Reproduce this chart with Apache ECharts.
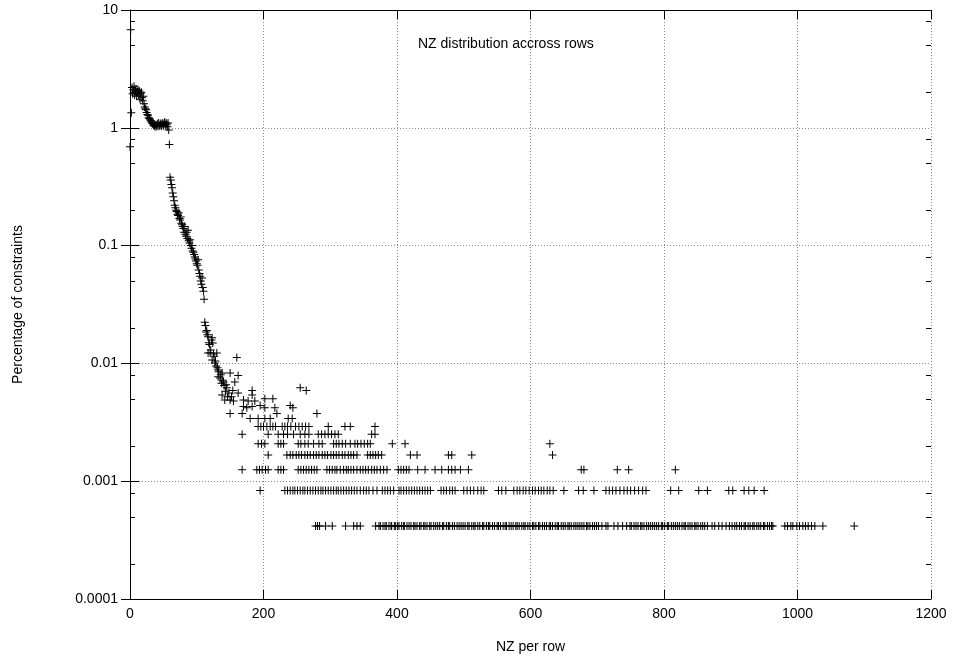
<!DOCTYPE html>
<html>
<head>
<meta charset="utf-8">
<script src="https://cdn.jsdelivr.net/npm/echarts@6/dist/echarts.min.js"></script>
<style>html,body{margin:0;padding:0;background:#fff}#c{width:954px;height:663px}</style>
</head>
<body>
<div id="c"></div>
<script>
// ---- data ----
const xTickLabels = ['0','200','400','600','800','1000','1200'];
const yTickLabels = ['0.0001','0.001','0.01','0.1','1','10'];
const yMinorTicks = [0.0002,0.0005,0.0008,0.002,0.005,0.008,0.02,0.05,0.08,0.2,0.5,0.8,2,5,8];

const headX = [0,1,2,3,4,5,6,7,8,9,10,11,12,13,14,15,16,17,18,19,20,21,22,23,24,25,26,27,28,29,
30,31,32,33,34,35,36,37,38,39,40,41,42,43,44,45,46,47,48,49,50,51,52,53,54,55,56,57,58,59,
60,61,62,63,64,65,66,67,68,69,70,71,72,73,74,75,76,77,78,79,80,81,82,83,84,85,86,87,88,89,
90,91,92,93,94,95,96,97,98,99,100,101,102,103,104,105,106,107,108,109,110,111];
const headY = [0.69,6.8,1.34,2.2,1.95,2.1,2.25,1.9,2.05,2.15,
1.85,2.0,2.1,1.9,2.05,1.75,1.95,2.0,1.8,1.7,
1.85,1.6,1.5,1.45,1.42,1.35,1.3,1.28,1.22,1.2,
1.17,1.15,1.12,1.1,1.08,1.05,1.07,1.03,1.06,1.02,
1.05,1.08,1.03,1.1,1.04,1.06,1.09,1.03,1.07,1.1,
1.04,1.08,1.12,1.05,1.1,1.07,1.02,1.1,0.96,0.72,
0.38,0.36,0.33,0.31,0.28,0.26,0.24,0.22,0.21,0.2,
0.195,0.185,0.18,0.19,0.17,0.165,0.175,0.155,0.15,0.145,
0.14,0.13,0.145,0.125,0.12,0.13,0.115,0.135,0.11,0.105,
0.112,0.1,0.095,0.1,0.09,0.088,0.084,0.08,0.077,0.074,
0.07,0.068,0.076,0.062,0.058,0.055,0.05,0.047,0.053,0.044,
0.041,0.035];

const midX = [112,113,114,115,116,117,118,119,120,121,122,123,124,117,125,126,130,123,127,128,129,160,
131,132,133,138,132,135,150,162,136,137,139,140,157,141,145,154,183,143,138,144,162,183,146,148,
142,150,152,170,177,187,202,214,255,264,155,170,175,183,195,202,217,240,244,
150,168,180,192,202,210,220,237,243,280];
const midY = [0.0224,0.021,0.0185,0.019,0.0175,0.0168,0.015,0.0145,0.0123,0.013,0.0158,0.0165,0.0149,0.01225,0.012,0.0115,0.01225,0.0107,0.0101,0.0105,0.0095,0.0112,
0.0092,0.0088,0.0085,0.0083,0.0077,0.0075,0.0083,0.0079,0.008,0.0068,0.0072,0.00695,0.00695,0.0065,0.0062,0.0059,0.0059,0.0058,0.0054,0.0066,0.0056,0.0054,0.0052,0.0056,
0.0049,0.0049,0.0052,0.0049,0.0048,0.0048,0.005,0.005,0.0062,0.0059,0.0048,0.0043,0.0042,0.0043,0.0044,0.0042,0.0042,0.0044,0.0042,
0.00375,0.00375,0.0034,0.0034,0.0034,0.0034,0.00375,0.0034,0.0034,0.00375];

// discrete low levels (1..7 rows)
const tailLevels = [0.000417,0.000833,0.00125,0.00167,0.00208,0.0025,0.00292];
const tail1X = [278,281,284,293,303,323,335,340,345,
368,373,375,379,382,384,388,391,392,396,398,401,403,407,410,411,415,418,421,425,427,430,434,436,440,442,445,449,451,455,458,461,464,468,470,474,477,479,483,486,490,493,496,499,502,506,508,512,515,517,521,524,528,530,534,537,539,543,546,550,552,555,559,562,564,568,571,574,578,580,583,587,590,592,596,599,603,605,608,612,614,618,621,624,628,630,633,637,640,642,646,649,652,656,658,661,665,668,671,674,677,680,684,686,689,693,696,699,702,707,713,716,725,731,738,744,749,751,755,758,761,765,767,770,774,777,780,783,786,789,792,796,798,801,805,807,811,814,817,820,823,827,830,832,836,839,842,846,848,851,855,858,861,865,872,876,882,887,893,898,902,906,909,913,916,920,922,926,929,933,935,939,942,945,949,951,955,958,961,963,
981,985,990,993,999,1003,1008,1012,1016,1021,1026,1038,1085];
const tail2X = [195,232,236,240,244,247,251,255,259,262,266,270,274,278,282,286,289,293,297,301,305,309,312,316,320,324,328,332,336,340,345,350,354,358,364,370,378,382,386,390,395,
403,406,410,414,418,422,426,430,434,438,442,446,450,466,470,474,479,483,487,500,505,510,515,521,526,530,552,557,563,575,580,584,589,593,598,
603,607,612,616,620,625,629,634,650,672,679,695,713,718,723,728,734,740,745,750,756,762,768,773,810,822,852,865,897,903,920,927,935,950];
const tail3X = [168,190,194,198,203,207,222,226,230,252,256,260,264,268,272,276,280,295,299,303,307,310,315,320,324,327,331,335,340,
345,349,353,357,362,366,370,375,380,385,402,406,410,414,418,431,442,457,467,477,482,487,495,507,676,680,730,747,817];
const tail4X = [207,235,240,244,249,253,257,262,266,270,275,279,283,288,292,296,301,305,309,313,318,322,327,331,335,340,
356,360,364,368,372,377,420,430,477,482,512,633];
const tail5X = [192,197,202,222,226,230,252,256,262,267,275,283,288,305,309,313,318,323,330,337,341,346,351,356,360,393,412,629];
const tail6X = [168,207,222,230,236,245,255,262,268,282,287,292,297,302,307,312,362,367];
const tail7X = [192,196,200,205,210,214,218,228,232,236,241,248,253,258,263,268,297,322,330,367];

// ---- build series data ----
const pts = [];
headX.forEach((x, i) => pts.push([x, headY[i]]));
midX.forEach((x, i) => pts.push([x, midY[i]]));
[tail1X, tail2X, tail3X, tail4X, tail5X, tail6X, tail7X].forEach((xs, k) => {
  xs.forEach(x => pts.push([x, tailLevels[k]]));
});

const FONT = 'Liberation Sans, Arial, Helvetica, sans-serif';
const plus = 'path://M3.5,0H4.5V3.5H8V4.5H4.5V8H3.5V4.5H0V3.5H3.5Z';

const chart = echarts.init(document.getElementById('c'), null, {renderer: 'canvas'});
const axisLineStyle = {show: true, lineStyle: {color: '#000', width: 1}};
const gridLine = {show: true, lineStyle: {color: '#888', type: [1, 2], width: 1}};

chart.setOption({
  animation: false,
  backgroundColor: '#fff',
  title: {
    text: 'NZ distribution accross rows',
    left: 413, top: 32,
    textStyle: {fontFamily: FONT, fontSize: 14, fontWeight: 'normal', color: '#000'}
  },
  grid: {left: 130, right: 23, top: 10, bottom: 64, containLabel: false},
  xAxis: [{
    type: 'value', min: 0, max: 1200, interval: 200, position: 'bottom',
    name: 'NZ per row', nameLocation: 'middle', nameGap: 41,
    nameTextStyle: {fontFamily: FONT, fontSize: 14, color: '#000'},
    axisLine: axisLineStyle,
    axisTick: {show: true, inside: true, length: 9, lineStyle: {color: '#000'}},
    axisLabel: {fontFamily: FONT, fontSize: 14, color: '#000', margin: 8,
      formatter: (v) => xTickLabels[Math.round(v / 200)]},
    splitLine: gridLine
  }, {
    type: 'value', min: 0, max: 1200, interval: 200, position: 'top',
    axisLine: axisLineStyle,
    axisTick: {show: true, inside: true, length: 9, lineStyle: {color: '#000'}},
    axisLabel: {show: false}, splitLine: {show: false}
  }],
  yAxis: [{
    type: 'log', logBase: 10, min: 0.0001, max: 10, position: 'left',
    name: 'Percentage of constraints', nameLocation: 'middle', nameGap: 105,
    nameTextStyle: {fontFamily: FONT, fontSize: 14, color: '#000'},
    axisLine: axisLineStyle,
    axisTick: {show: true, inside: true, length: 9, lineStyle: {color: '#000'}},
    axisLabel: {fontFamily: FONT, fontSize: 14, color: '#000', margin: 12,
      formatter: (v) => yTickLabels[Math.round(Math.log10(v)) + 4]},
    splitLine: gridLine
  }, {
    type: 'log', logBase: 10, min: 0.0001, max: 10, position: 'right',
    axisLine: axisLineStyle,
    axisTick: {show: true, inside: true, length: 9, lineStyle: {color: '#000'}},
    axisLabel: {show: false}, splitLine: {show: false}
  }],
  series: [{
    type: 'scatter',
    xAxisIndex: 0, yAxisIndex: 0,
    data: pts,
    symbol: plus,
    symbolSize: 8,
    itemStyle: {color: '#000', opacity: 1},
    emphasis: {disabled: true},
    silent: true
  }, {
    type: 'custom',
    xAxisIndex: 0, yAxisIndex: 0,
    silent: true,
    data: yMinorTicks.map(v => [0, v]),
    encode: {x: 0, y: 1},
    renderItem: function (params, api) {
      const v = api.value(1);
      const a = api.coord([0, v]);
      const b = api.coord([1200, v]);
      const y = Math.round(a[1]) + 0.5;
      return {type: 'group', children: [
        {type: 'line', shape: {x1: a[0], y1: y, x2: a[0] + 5, y2: y}, style: {stroke: '#000', lineWidth: 1}},
        {type: 'line', shape: {x1: b[0] - 5, y1: y, x2: b[0], y2: y}, style: {stroke: '#000', lineWidth: 1}}
      ]};
    }
  }]
});
</script>
</body>
</html>
